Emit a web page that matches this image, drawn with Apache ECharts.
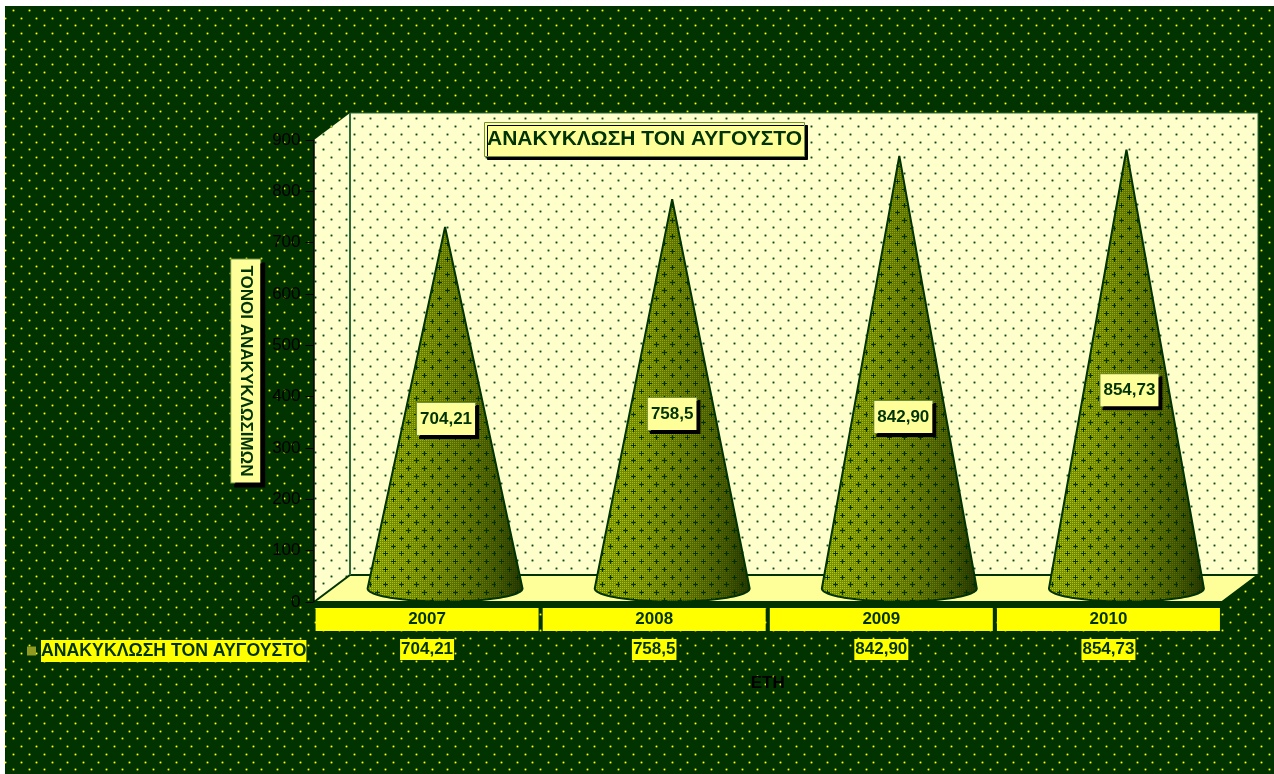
<!DOCTYPE html>
<html><head><meta charset="utf-8">
<style>html,body{margin:0;padding:0;background:#fff}#c{width:1274px;height:774px}</style>
<script src="https://cdn.jsdelivr.net/npm/echarts@6/dist/echarts.min.js"></script>
</head><body><div id="c"></div>
<script>
const years = ['2007', '2008', '2009', '2010'];
const tonnes = [704.21, 758.5, 842.90, 854.73];
const tableLabels = ['704,21', '758,5', '842,90', '854,73'];
const seriesName = 'ΑΝΑΚΥΚΛΩΣΗ ΤΟΝ ΑΥΓΟΥΣΤΟ';
const yAxisTitle = 'ΤΟΝΟΙ ΑΝΑΚΥΚΛΩΣΙΜΩΝ';
const xAxisTitle = 'ΕΤΗ';
// where the hand-moved data labels sit, in axis units, and their nudge in pixels
const labelHeights = [330, 340, 334, 386];
const labelNudgeX = [1, 0, 4, 3];

const FONT = '"Liberation Sans", Arial, sans-serif';
const GREEN = '#003300';
const DX = 36, DY = 27;

function dots(bg, dot, halo, cross) {
  const c = document.createElement('canvas'); c.width = 31; c.height = 31;
  const g = c.getContext('2d');
  g.fillStyle = bg; g.fillRect(0, 0, 31, 31);
  [[0, 2, 5], [1, 10, 13], [2, 18, 5], [3, 25, 13]].forEach(r => {
    [r[2], r[2] + 15.5].forEach(x => {
      const px = Math.round(x);
      g.fillStyle = halo; g.fillRect(px - 1, r[1] - 1, 3, 3);
      g.fillStyle = cross; g.fillRect(px - 1, r[1], 3, 1); g.fillRect(px, r[1] - 1, 1, 3);
      g.fillStyle = dot; g.fillRect(px, r[1], 1, 1);
    });
  });
  return { image: c, repeat: 'repeat' };
}
function coneTexture() {
  const c = document.createElement('canvas'); c.width = 62; c.height = 62;
  const g = c.getContext('2d');
  g.fillStyle = 'rgba(0,50,0,0.38)';
  for (let y = 0; y < 62; y++) for (let x = 0; x < 62; x++) if (x % 2 || y % 2) g.fillRect(x, y, 1, 1);
  g.fillStyle = 'rgba(0,45,0,0.95)';
  for (let k = 0; k < 8; k++) {
    const y = Math.round(3 + k * 7.75), off = k % 2 ? 13 : 5;
    for (let n = 0; n < 4; n++) {
      const x = Math.round(off + n * 15.5);
      g.fillRect(x - 2, y, 5, 1); g.fillRect(x, y - 2, 1, 5);
    }
  }
  return { image: c, repeat: 'repeat' };
}
const bgPattern = dots(GREEN, '#ffff00', 'rgba(190,200,0,0.18)', 'rgba(200,210,0,0.45)');
const wallPattern = dots('#ffffcc', '#0f4a1f', 'rgba(40,90,50,0.2)', 'rgba(40,90,50,0.4)');
const conePattern = coneTexture();

function renderRoom(params, api) {
  const cs = params.coordSys;
  const l = cs.x + 0.5, r = cs.x + cs.width, t = cs.y, b = cs.y + cs.height;
  const line = { stroke: GREEN, lineWidth: 2 };
  return { type: 'group', children: [
    { type: 'rect', shape: { x: l - 1, y: b, width: r - l + 2, height: 6 }, style: { fill: GREEN } },
    { type: 'polygon', shape: { points: [[l + DX, t - DY], [r + DX, t - DY], [r + DX, b - DY], [l + DX, b - DY]] },
      style: { fill: wallPattern, stroke: '#2f6a3a', lineWidth: 1 } },
    { type: 'polygon', shape: { points: [[l, t], [l + DX, t - DY], [l + DX, b - DY], [l, b]] },
      style: { fill: wallPattern, stroke: null } },
    { type: 'polygon', shape: { points: [[l, b], [l + DX, b - DY], [r + DX, b - DY], [r, b]] },
      style: Object.assign({ fill: '#ffff99' }, line) },
    { type: 'line', shape: { x1: l + DX, y1: t - DY, x2: l + DX, y2: b - DY }, style: { stroke: '#2f6a3a', lineWidth: 2 } }
  ] };
}

function renderCone(params, api) {
  const i = api.value(0), v = api.value(1);
  const band = api.size([1, 0])[0];
  const base = api.coord([i, 0]), top = api.coord([i, v]);
  const cx = base[0] + DX / 2, cy = base[1] - DY / 2, tipY = top[1] - DY / 2;
  const rx = band * 0.341, ry = 13;
  const pts = [[cx, tipY]];
  for (let k = 0; k <= 48; k++) {
    const a = Math.PI * k / 48;
    pts.push([cx + rx * Math.cos(a), cy + ry * Math.sin(a)]);
  }
  const grad = { type: 'linear', x: 0, y: 0, x2: 1, y2: 0, colorStops: [
    { offset: 0, color: '#c2cf00' }, { offset: 0.3, color: '#adb900' },
    { offset: 0.62, color: '#858f00' }, { offset: 0.85, color: '#5b6300' }, { offset: 1, color: '#303700' }] };
  const ly = api.coord([i, labelHeights[i]])[1] - DY / 2;
  const lx = cx + labelNudgeX[i];
  return { type: 'group', children: [
    { type: 'polygon', shape: { points: pts }, style: { fill: grad } },
    { type: 'polygon', shape: { points: pts }, style: { fill: conePattern, stroke: GREEN, lineWidth: 2, lineJoin: 'bevel' } },
    { type: 'text', z2: 10, style: {
      text: tableLabels[i], x: lx, y: ly, align: 'center', verticalAlign: 'middle',
      font: 'bold 17px ' + FONT, fill: GREEN, backgroundColor: '#ffff99',
      borderColor: '#6f8f3f', borderWidth: 1, padding: [8, 3, 7, 3],
      shadowColor: '#000', shadowBlur: 0, shadowOffsetX: 3, shadowOffsetY: 3 } }
  ] };
}

const chart = echarts.init(document.getElementById('c'), null, { renderer: 'canvas' });
chart.setOption({
  animation: false,
  backgroundColor: '#ffffff',
  textStyle: { fontFamily: FONT },
  graphic: [{ type: 'rect', z: -100, silent: true, shape: { x: 5, y: 6, width: 1269, height: 768 }, style: { fill: bgPattern } }],
  title: {
    text: seriesName, left: 484, top: 122, padding: [6, 3, 7, 3],
    backgroundColor: '#ffff99', borderColor: '#6f8f3f', borderWidth: 1,
    shadowColor: '#000', shadowBlur: 0, shadowOffsetX: 3, shadowOffsetY: 3,
    textStyle: { color: GREEN, fontSize: 21, fontWeight: 'bold', fontFamily: FONT, lineHeight: 22 }, z: 20
  },
  legend: {
    left: 27, top: 640, padding: 0, itemWidth: 9, itemHeight: 9, selectedMode: false, icon: 'rect',
    data: [{ name: seriesName, itemStyle: { color: '#8f9a20' } }],
    textStyle: { color: GREEN, fontSize: 17.7, fontWeight: 'bold', fontFamily: FONT, backgroundColor: '#ffff00', padding: [2, 0, 2, 0] }
  },
  grid: { left: 313.5, width: 908.5, top: 140, height: 462 },
  xAxis: [{
    type: 'category', data: years, position: 'bottom',
    axisLine: { lineStyle: { color: GREEN } }, axisTick: { show: false },
    splitLine: { show: false }, z: 6,
    axisLabel: { interval: 0, margin: 6, color: GREEN, fontSize: 17, fontWeight: 'bold', fontFamily: FONT,
      backgroundColor: '#ffff00', width: 223, height: 23, lineHeight: 23, align: 'center' },
    name: xAxisTitle, nameLocation: 'middle', nameGap: 73,
    nameTextStyle: { color: '#000', fontSize: 17, fontWeight: 'bold', fontFamily: FONT }
  }, {
    type: 'category', data: tableLabels, position: 'bottom', offset: 37,
    axisLine: { show: false }, axisTick: { show: false }, splitLine: { show: false },
    axisLabel: { interval: 0, margin: 0, color: GREEN, fontSize: 17, fontWeight: 'bold', fontFamily: FONT,
      backgroundColor: '#ffff00', padding: [2, 1, 2, 1] }
  }],
  yAxis: {
    type: 'value', min: 0, max: 900, interval: 100, z: 6,
    axisLine: { show: true, lineStyle: { color: '#000', width: 1.5 } },
    axisTick: { show: true, length: 8, lineStyle: { color: '#000' } },
    splitLine: { show: false },
    axisLabel: { color: '#000', fontSize: 17, margin: 13, fontFamily: FONT, padding: [2, 0, 0, 0] },
    name: yAxisTitle, nameLocation: 'middle', nameGap: 48, nameRotate: -90,
    nameTextStyle: { color: GREEN, fontSize: 17, fontWeight: 'bold', fontFamily: FONT,
      backgroundColor: '#ffff99', borderColor: '#6f8f3f', borderWidth: 1, padding: [6, 6, 6, 6],
      shadowColor: '#000', shadowBlur: 0, shadowOffsetX: 4, shadowOffsetY: 4 }
  },
  series: [
    { type: 'custom', name: 'room', silent: true, z: 1, clip: false, renderItem: renderRoom, data: [[0, 0]], encode: { x: 0, y: 1 } },
    { type: 'custom', name: seriesName, z: 3, clip: false, renderItem: renderCone,
      itemStyle: { color: '#8f9a20' }, data: tonnes.map((v, i) => [i, v]), encode: { x: 0, y: 1 } }
  ]
});
</script></body></html>
